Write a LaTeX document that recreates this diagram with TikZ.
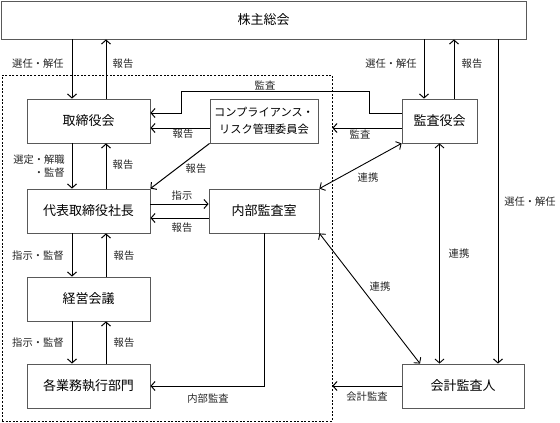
\documentclass[tikz,border=0pt]{standalone}
\usepackage{fontspec}
\newfontfamily\jp{Noto Sans CJK JP}
\usetikzlibrary{arrows.meta}
\begin{document}
\begin{tikzpicture}[x=1pt,y=-1pt,
  box/.style={draw=black!65, line width=0.8pt, fill=white, minimum height=44pt, inner sep=0pt, font=\jp\fontsize{13}{14}\selectfont},
  lbl/.style={font=\jp\fontsize{10.3}{12}\selectfont, inner sep=0pt, text=black!85},
  arr/.style={-{Straight Barb[length=4pt,width=9pt]}, line width=1pt},
  darr/.style={{Straight Barb[length=4pt,width=9pt]}-{Straight Barb[length=4pt,width=9pt]}, line width=0.9pt},
  dashbox/.style={draw=black, line width=0.7pt, dash pattern=on 2pt off 1.6pt, inner sep=0pt}]
\useasboundingbox (0,0) rectangle (560,423);
% dashed region
\node[dashbox, minimum width=330pt, minimum height=346pt] (dz) at (167,248) {};
% boxes
\node[box, minimum width=525pt, minimum height=38pt] (sh) at (263.5,20) {株主総会};
\node[box, minimum width=123pt] (tb) at (88.5,121) {取締役会};
\node[box, minimum width=108pt, align=center, font=\jp\fontsize{11.2}{17}\selectfont] (cr) at (264,121) {コンプライアンス・\\リスク管理委員会};
\node[box, minimum width=75pt] (kb) at (439.5,121) {監査役会};
\node[box, minimum width=123pt] (ceo) at (88.5,211) {代表取締役社長};
\node[box, minimum width=110pt] (ia) at (264,211) {内部監査室};
\node[box, minimum width=123pt] (mm) at (88.5,299) {経営会議};
\node[box, minimum width=123pt] (bu) at (88.5,386) {各業務執行部門};
\node[box, minimum width=122pt] (ac) at (463,386) {会計監査人};
% helper coordinates
\coordinate (xa) at (72,0);
\coordinate (xb) at (106,0);
\coordinate (xc) at (424,0);
\coordinate (xd) at (454,0);
\coordinate (xe) at (498,0);
\coordinate (xh) at (181,0);
\coordinate (xi) at (369,0);
\coordinate (xj) at (420,0);
\coordinate (y113) at (0,113);
\coordinate (y128) at (0,128);
\coordinate (y91) at (0,91);
\coordinate (y204) at (0,204);
\coordinate (y218) at (0,218);
% shareholders
\draw[arr] (xa |- sh.south) -- (xa |- tb.north);
\draw[arr] (xb |- tb.north) -- (xb |- sh.south);
\draw[arr] (xc |- sh.south) -- (xc |- kb.north);
\draw[arr] (xd |- kb.north) -- (xd |- sh.south);
\draw[arr] (xe |- sh.south) -- (xe |- ac.north);
% audit board to board
\draw[arr] (kb.west |- y113) -- (xi |- y113) -- (xi |- y91) -- (xh |- y91) -- (xh |- y113) -- (tb.east |- y113);
\draw[arr] (cr.west |- y128) -- (tb.east |- y128);
\draw[arr] (kb.west |- y128) -- (dz.east |- y128);
\draw[arr] (cr.south west) -- (ceo.north east);
\draw[darr] (kb.south west) -- (ia.north east);
\draw[darr] (ia.south east) -- (xj |- ac.north);
\draw[darr] (kb.south) -- (kb.south |- ac.north);
\draw[arr] (ac.west) -- (dz.east |- ac.west);
\draw[arr] (ia.south) -- (ia.south |- bu.east) -- (bu.east);
\draw[arr] (ceo.east |- y204) -- (ia.west |- y204);
\draw[arr] (ia.west |- y218) -- (ceo.east |- y218);
% vertical chain
\draw[arr] (xa |- tb.south) -- (xa |- ceo.north);
\draw[arr] (xb |- ceo.north) -- (xb |- tb.south);
\draw[arr] (xa |- ceo.south) -- (xa |- mm.north);
\draw[arr] (xb |- mm.north) -- (xb |- ceo.south);
\draw[arr] (xa |- mm.south) -- (xa |- bu.north);
\draw[arr] (xb |- bu.north) -- (xb |- mm.south);
% labels
\node[lbl] (l1) at (38,64) {選任・解任};
\node[lbl] (l2) at (123,64) {報告};
\node[lbl] (l3) at (391,64) {選任・解任};
\node[lbl] (l4) at (472,64) {報告};
\node[lbl] (l5) at (265,85) {監査};
\node[lbl] (l6) at (183,134) {報告};
\node[lbl] (l7) at (360,134) {監査};
\node[lbl, align=right, anchor=east, font=\jp\fontsize{10.3}{13}\selectfont] (l8) at (65,166) {選定・解職\\・監督};
\node[lbl] (l9) at (123,165) {報告};
\node[lbl] (l10) at (196,169) {報告};
\node[lbl] (l11) at (182,196) {指示};
\node[lbl] (l12) at (182,228) {報告};
\node[lbl] (l13) at (368,178) {連携};
\node[lbl] (l14) at (530,202) {選任・解任};
\node[lbl] (l15) at (38,256) {指示・監督};
\node[lbl] (l16) at (124,256) {報告};
\node[lbl] (l17) at (459,254) {連携};
\node[lbl] (l18) at (380,287) {連携};
\node[lbl] (l19) at (38,343) {指示・監督};
\node[lbl] (l20) at (124,343) {報告};
\node[lbl] (l21) at (208,399) {内部監査};
\node[lbl] (l22) at (367,397) {会計監査};
\end{tikzpicture}
\end{document}
